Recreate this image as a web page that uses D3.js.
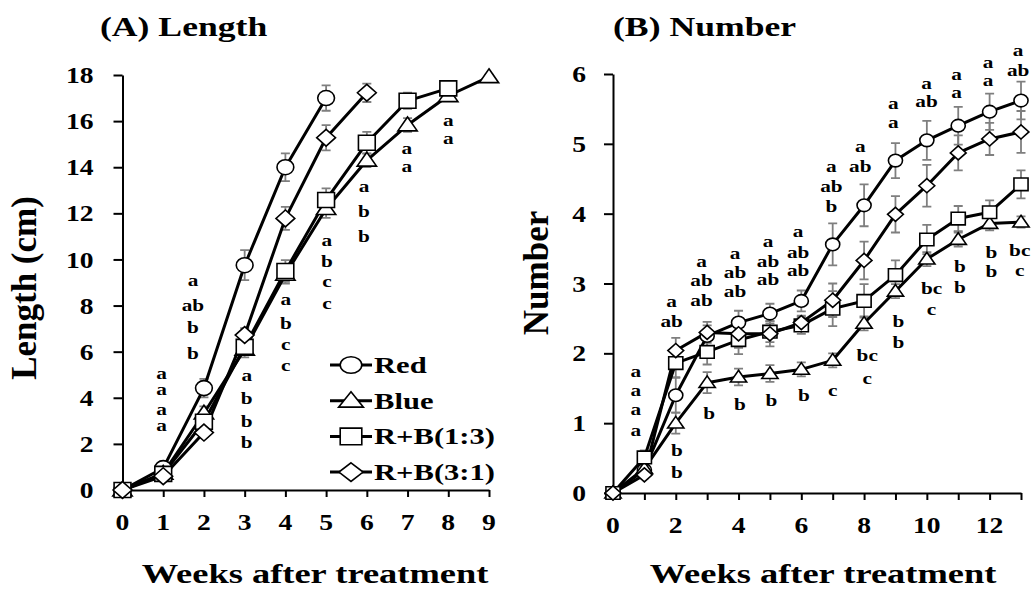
<!DOCTYPE html>
<html>
<head>
<meta charset="utf-8">
<script src="https://cdn.jsdelivr.net/npm/d3@7"></script>
<style>
  body { margin: 0; background: #fff; }
  svg text { font-family: "Liberation Serif", "Times New Roman", serif; font-weight: bold; fill: #000; }
</style>
</head>
<body>
<svg id="chart" width="1034" height="589"></svg>
<script>
// ---- Panel A: shoot length (cm) by week ----
const lengthWeeks = [0, 1, 2, 3, 4, 5, 6, 7, 8, 9];
const lengthRed      = [0, 0.95, 4.42, 9.75, 14.0, 17.0];
const lengthRedErr   = [0, 0.1, 0.4, 0.65, 0.6, 0.55];
const lengthBlue     = [0, 0.72, 3.33, 6.1, 9.35, 12.2, 14.3, 15.83, 17.1, 17.92];
const lengthBlueErr  = [0, 0.1, 0.3, 0.35, 0.4, 0.4, 0.3, 0.3, 0.15, 0.1];
const lengthRB13     = [0, 0.7, 2.96, 6.21, 9.5, 12.58, 15.06, 16.88, 17.42];
const lengthRB13Err  = [0, 0.1, 0.3, 0.35, 0.47, 0.5, 0.47, 0.35, 0.2];
const lengthRB31     = [0, 0.6, 2.49, 6.72, 11.78, 15.28, 17.23];
const lengthRB31Err  = [0, 0.1, 0.2, 0.3, 0.5, 0.55, 0.4];
const lengthYTicks = [0, 2, 4, 6, 8, 10, 12, 14, 16, 18];
const lengthXTicks = [0, 1, 2, 3, 4, 5, 6, 7, 8, 9];
const lengthXLabels = [0, 1, 2, 3, 4, 5, 6, 7, 8, 9];

// ---- Panel B: number by week ----
const numberWeeks = [0, 1, 2, 3, 4, 5, 6, 7, 8, 9, 10, 11, 12, 13];
const numberRed      = [0, 0.33, 1.40, 2.25, 2.44, 2.57, 2.75, 3.56, 4.12, 4.76, 5.05, 5.26, 5.46, 5.62];
const numberRedErr   = [0, 0.1, 0.25, 0.15, 0.17, 0.14, 0.15, 0.3, 0.3, 0.25, 0.28, 0.27, 0.26, 0.27];
const numberBlue     = [0, 0.35, 1.0, 1.58, 1.66, 1.71, 1.77, 1.90, 2.43, 2.89, 3.35, 3.63, 3.86, 3.88];
const numberBlueErr  = [0, 0.05, 0.15, 0.15, 0.12, 0.12, 0.1, 0.1, 0.1, 0.1, 0.1, 0.1, 0.1, 0.08];
const numberRB13     = [0, 0.51, 1.86, 2.02, 2.19, 2.31, 2.40, 2.64, 2.75, 3.12, 3.63, 3.93, 4.02, 4.42];
const numberRB13Err  = [0, 0.1, 0.2, 0.18, 0.2, 0.15, 0.12, 0.25, 0.24, 0.21, 0.21, 0.18, 0.17, 0.2];
const numberRB31     = [0, 0.26, 2.04, 2.30, 2.28, 2.28, 2.44, 2.76, 3.33, 3.99, 4.40, 4.87, 5.07, 5.17];
const numberRB31Err  = [0, 0.05, 0.18, 0.15, 0.2, 0.18, 0.1, 0.24, 0.27, 0.26, 0.3, 0.25, 0.23, 0.3];
const numberYTicks = [0, 1, 2, 3, 4, 5, 6];
const numberXTicks = [0, 1, 2, 3, 4, 5, 6, 7, 8, 9, 10, 11, 12, 13];
const numberXLabels = [0, 2, 4, 6, 8, 10, 12];

const seriesNames = ["Red", "Blue", "R+B(1:3)", "R+B(3:1)"];
const seriesShapes = ["circle", "triangle", "square", "diamond"];

// Significance letters: x in weeks, y in data units (one entry per letter)
const lengthLetters = [
  { x: 0.96, y: [5.07, 4.34, 3.51, 2.78], t: ["a", "a", "a", "a"] },
  { x: 1.73, y: [9.08, 8.02, 7.04, 5.90], t: ["a", "ab", "b", "b"] },
  { x: 3.05, y: [4.96, 3.95, 2.96, 2.04], t: ["a", "b", "b", "b"] },
  { x: 4.01, y: [8.24, 7.20, 6.29, 5.38], t: ["a", "b", "c", "c"] },
  { x: 5.02, y: [10.84, 9.89, 9.02, 8.07], t: ["a", "b", "c", "c"] },
  { x: 5.93, y: [13.15, 12.07, 10.98], t: ["a", "b", "b"] },
  { x: 6.98, y: [14.82, 14.05], t: ["a", "a"] },
  { x: 8.0,  y: [16.04, 15.25], t: ["a", "a"] }
];
const numberLetters = [
  { x: 0.73, y: [1.745, 1.47, 1.20, 0.90], t: ["a", "a", "a", "a"] },
  { x: 1.87, y: [2.74, 2.45], t: ["a", "ab"] },
  { x: 2.04, y: [0.605, 0.29], t: ["b", "b"] },
  { x: 2.82, y: [3.31, 3.04, 2.76], t: ["a", "ab", "ab"] },
  { x: 3.06, y: [1.14], t: ["b"] },
  { x: 3.89, y: [3.43, 3.16, 2.89], t: ["a", "ab", "ab"] },
  { x: 4.04, y: [1.26], t: ["b"] },
  { x: 4.94, y: [3.60, 3.32, 3.05], t: ["a", "ab", "ab"] },
  { x: 5.05, y: [1.33], t: ["b"] },
  { x: 5.90, y: [3.74, 3.45, 3.18], t: ["a", "ab", "ab"] },
  { x: 6.08, y: [1.40], t: ["b"] },
  { x: 6.96, y: [4.68, 4.39, 4.10], t: ["a", "ab", "b"] },
  { x: 7.0,  y: [1.47], t: ["c"] },
  { x: 7.88, y: [4.96, 4.68], t: ["a", "ab"] },
  { x: 8.1,  y: [1.97, 1.64], t: ["bc", "c"] },
  { x: 8.93, y: [5.57, 5.30], t: ["a", "a"] },
  { x: 9.09, y: [2.46, 2.16], t: ["b", "b"] },
  { x: 9.99, y: [5.87, 5.60], t: ["a", "ab"] },
  { x: 10.15, y: [2.93, 2.62], t: ["bc", "c"] },
  { x: 10.95, y: [5.99, 5.73], t: ["a", "a"] },
  { x: 11.05, y: [3.24, 2.94], t: ["b", "b"] },
  { x: 11.95, y: [6.16, 5.90], t: ["a", "a"] },
  { x: 12.06, y: [3.45, 3.17], t: ["b", "b"] },
  { x: 12.91, y: [6.34, 6.05], t: ["a", "ab"] },
  { x: 12.96, y: [3.47, 3.18], t: ["bc", "c"] }
];

const svg = d3.select("#chart");
const serif = "'Liberation Serif', 'Times New Roman', serif";

// Text drawn with a horizontal stretch (wide bold serif lettering)
function wideText(parent, x, y, str, size, sx, anchor, baseline) {
  return parent.append("text")
    .attr("transform", `translate(${x},${y}) scale(${sx},1)`)
    .attr("text-anchor", anchor || "start")
    .attr("dy", baseline || null)
    .attr("font-family", serif).attr("font-weight", "bold")
    .style("font-size", size + "px")
    .text(str);
}

// Marker outlines, centred on (0,0); sx widens them horizontally
function markerPath(shape, s, sx) {
  const w = s * sx;
  switch (shape) {
    case "circle":
      return `M${-w},0A${w},${s} 0 1,0 ${w},0A${w},${s} 0 1,0 ${-w},0Z`;
    case "square":
      return `M${-w},${-s}H${w}V${s}H${-w}Z`;
    case "diamond": {
      const d = s * 1.12, dw = w * 1.12;
      return `M0,${-d}L${dw},0L0,${d}L${-dw},0Z`;
    }
    case "triangle": {
      const tw = w * 1.15, h = s * 1.85;
      return `M0,${-h * 0.58}L${tw},${h * 0.42}L${-tw},${h * 0.42}Z`;
    }
  }
}

function drawPanel(cfg) {
  const x = d3.scaleLinear().domain(cfg.xDomain).range(cfg.xRange);
  const y = d3.scaleLinear().domain(cfg.yDomain).range(cfg.yRange);
  const g = svg.append("g");

  // axes (lines and ticks from d3, labels placed with the same scales)
  const yAxis = g.append("g")
    .attr("transform", `translate(${cfg.xRange[0]},0)`)
    .call(d3.axisLeft(y).tickValues(cfg.yTicks).tickFormat("").tickSize(9).tickSizeOuter(0));
  const xAxis = g.append("g")
    .attr("transform", `translate(0,${cfg.yRange[0]})`)
    .call(d3.axisBottom(x).tickValues(cfg.xTicks).tickFormat("").tickSize(7).tickSizeOuter(0));
  [yAxis, xAxis].forEach(a => {
    a.select(".domain").attr("stroke", "#000").attr("stroke-width", 2);
    a.selectAll(".tick line").attr("stroke", "#000").attr("stroke-width", 2);
  });
  cfg.yTicks.forEach(v => wideText(g, cfg.xRange[0] - cfg.yPad, y(v), String(v), 24, 1.15, "end", "0.34em"));
  cfg.xLabels.forEach(v => wideText(g, x(v), cfg.yRange[0] + 40, String(v), 24, 1.15, "middle"));

  const line = d3.line().x((d, i) => x(cfg.weeks[i])).y(d => y(d));

  // error bars
  cfg.series.forEach(s => {
    const eb = g.append("g").attr("stroke", "#7f7f7f").attr("stroke-width", 1.8).attr("fill", "none");
    s.values.forEach((v, i) => {
      const e = s.errors[i];
      if (!(e > 0)) return;
      const cx = x(cfg.weeks[i]), y1 = y(v - e), y2 = y(v + e), c = cfg.cap;
      eb.append("path").attr("d", `M${cx},${y1}V${y2}M${cx - c},${y1}H${cx + c}M${cx - c},${y2}H${cx + c}`);
    });
  });
  // lines
  cfg.series.forEach(s => {
    g.append("path").datum(s.values).attr("d", line)
      .attr("fill", "none").attr("stroke", "#000").attr("stroke-width", 3).attr("stroke-linejoin", "round");
  });
  // markers
  cfg.series.forEach((s, k) => {
    g.append("g").selectAll("path").data(s.values).join("path")
      .attr("transform", (d, i) => `translate(${x(cfg.weeks[i])},${y(d)})`)
      .attr("d", markerPath(seriesShapes[k], cfg.marker, 1.12))
      .attr("fill", "#fff").attr("stroke", "#000").attr("stroke-width", 1.6);
  });

  // significance letters
  cfg.letters.forEach(grp => {
    grp.t.forEach((t, i) => wideText(g, x(grp.x), y(grp.y[i]), t, 17, 1.25, "middle", "0.32em"));
  });

  // titles
  wideText(svg, cfg.titleX, 36, cfg.title, 27, 1.32, "start");
  svg.append("text")
    .attr("transform", `translate(${cfg.yLabelX},${cfg.yLabelY}) rotate(-90)`)
    .attr("text-anchor", "middle").attr("font-family", serif).attr("font-weight", "bold")
    .style("font-size", "35px").text(cfg.yLabel);
  wideText(svg, cfg.xLabelX, 583, "Weeks after treatment", 27, 1.35, "middle");
  return { x, y };
}

drawPanel({
  xDomain: [0, 9], xRange: [122.5, 489],
  yDomain: [0, 18], yRange: [490, 75],
  yTicks: lengthYTicks, xTicks: lengthXTicks, xLabels: lengthXLabels, yPad: 29,
  weeks: lengthWeeks,
  series: [
    { values: lengthRed, errors: lengthRedErr },
    { values: lengthBlue, errors: lengthBlueErr },
    { values: lengthRB13, errors: lengthRB13Err },
    { values: lengthRB31, errors: lengthRB31Err }
  ],
  marker: 7.5, cap: 4.5,
  letters: lengthLetters,
  title: "(A) Length", titleX: 100,
  yLabel: "Length (cm)", yLabelX: 36, yLabelY: 288,
  xLabelX: 315
});

drawPanel({
  xDomain: [0, 13], xRange: [613, 1021],
  yDomain: [0, 6], yRange: [493, 74],
  yTicks: numberYTicks, xTicks: numberXTicks, xLabels: numberXLabels, yPad: 27,
  weeks: numberWeeks,
  series: [
    { values: numberRed, errors: numberRedErr },
    { values: numberBlue, errors: numberBlueErr },
    { values: numberRB13, errors: numberRB13Err },
    { values: numberRB31, errors: numberRB31Err }
  ],
  marker: 6.3, cap: 4.5,
  letters: numberLetters,
  title: "(B) Number", titleX: 613,
  yLabel: "Number", yLabelX: 548, yLabelY: 273,
  xLabelX: 823
});

// legend for panel A
const legend = svg.append("g").attr("transform", "translate(330,365)");
seriesNames.forEach((name, k) => {
  const row = legend.append("g").attr("transform", `translate(0,${k * 35.7})`);
  row.append("line").attr("x1", 0).attr("x2", 42).attr("stroke", "#000").attr("stroke-width", 3);
  row.append("path").attr("transform", "translate(21,0)").attr("d", markerPath(seriesShapes[k], 8.3, 1.3))
    .attr("fill", "#fff").attr("stroke", "#000").attr("stroke-width", 1.6);
  wideText(row, 44, 0, name, 23, 1.33, "start", "0.34em");
});
</script>
</body>
</html>
